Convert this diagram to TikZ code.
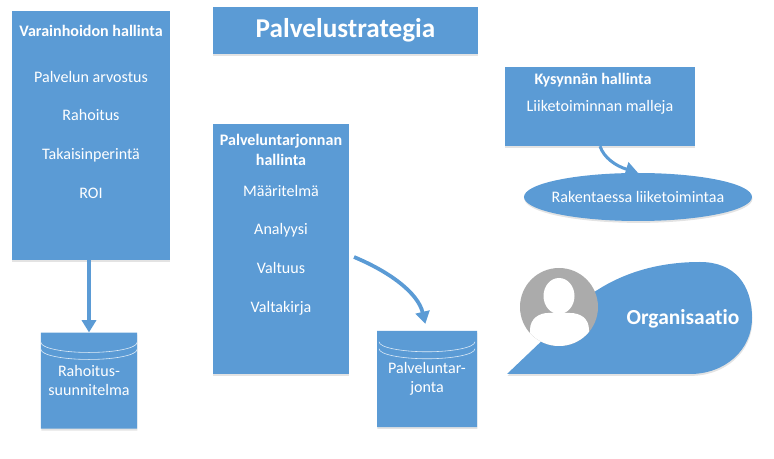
\documentclass[tikz,border=0pt]{standalone}
\usepackage{fontspec}
\setmainfont{Carlito}[Ligatures=NoCommon]
\usetikzlibrary{shapes.geometric, arrows.meta, positioning, calc, shadows}
\definecolor{boxblue}{RGB}{91,155,213}
\definecolor{avatargray}{RGB}{171,171,171}

\begin{document}
\begin{tikzpicture}[
    x=0.03cm, y=-0.03cm,
    softshadow/.style = {drop shadow={opacity=0.22, shadow xshift=0.4pt, shadow yshift=-1.6pt}},
    panelbox/.style   = {fill=boxblue, softshadow},
    headtext/.style   = {font=\fontsize{13.7}{16.5}\selectfont\bfseries, text=white, align=center, inner sep=0pt},
    itemtext/.style   = {font=\fontsize{13.7}{15}\selectfont, text=white, align=center, inner sep=0pt,
                         text height=9pt, text depth=3pt},
    storecyl/.style   = {cylinder, shape border rotate=90, aspect=0.42, fill=boxblue, softshadow,
                         anchor=shape center, minimum width=2.88cm, minimum height=2.88cm, inner sep=0pt},
    storetext/.style  = {font=\fontsize{13.7}{16.5}\selectfont, text=white, align=center, inner sep=0pt},
    rim/.style        = {draw=white!80!boxblue, line width=0.5pt},
    arr/.style        = {-{Triangle[length=10.5pt, width=12pt]}, draw=boxblue, line width=3.2pt},
]

\useasboundingbox (0,0) rectangle (774,459);

% Title
\node[panelbox, minimum width=7.95cm, minimum height=1.41cm] (Strategia) at (345.5,30.5) {};
\node[font=\fontsize{23.2}{24}\selectfont\bfseries, text=white] (StrategiaText) at (Strategia) {Palvelustrategia};

% Varainhoito panel
\node[panelbox, minimum width=4.74cm, minimum height=7.47cm] (Varainhoito) at (91,135.5) {};
\node[headtext, below=0.42cm of Varainhoito.north] (V0) {Varainhoidon hallinta};
\node[itemtext, below=1.04cm of V0] (V1) {Palvelun arvostus};
\node[itemtext, below=0.73cm of V1] (V2) {Rahoitus};
\node[itemtext, below=0.73cm of V2] (V3) {Takaisinperintä};
\node[itemtext, below=0.73cm of V3] (V4) {ROI};

% Tarjonta panel
\node[panelbox, minimum width=4.08cm, minimum height=7.5cm] (Tarjonta) at (281,249) {};
\node[headtext, below=0.32cm of Tarjonta.north] (T0) {Palveluntarjonnan\\hallinta};
\node[itemtext, below=0.59cm of T0] (T1) {Määritelmä};
\node[itemtext, below=0.73cm of T1] (T2) {Analyysi};
\node[itemtext, below=0.73cm of T2] (T3) {Valtuus};
\node[itemtext, below=0.73cm of T3] (T4) {Valtakirja};

% Kysynta
\node[panelbox, minimum width=5.7cm, minimum height=2.37cm] (Kysynta) at (600,106.5) {};
\node[headtext, anchor=center] (K0) at (593,80) {Kysynnän hallinta};
\node[itemtext, below=0.63cm of K0.center, xshift=0.21cm] (K1) {Liiketoiminnan malleja};
\node[ellipse, fill=boxblue, softshadow, minimum width=6.84cm, minimum height=1.44cm, inner sep=0pt] (Rakentaessa) at (638,197) {};
\node[storetext] (RakentaessaText) at (Rakentaessa) {Rakentaessa liiketoimintaa};

% Stores
\node[storecyl] (Rahoitus) at (89,380.7) {};
\node[storecyl, minimum width=3cm] (Palvelu) at (427,379) {};
\node[storetext] (RahoitusText) at (Rahoitus.shape center) {Rahoitus-\\suunnitelma};
\node[storetext] (PalveluText) at (Palvelu.shape center) {Palveluntar-\\jonta};
\foreach \C/\D in {Rahoitus/20, Rahoitus/27, Palvelu/21, Palvelu/28}{
  \draw[rim] ($(\C.north)+(-48,\D-10)$) arc[start angle=180, end angle=360, x radius=1.44cm, y radius=0.3cm];
}

% Organisaatio
\path[fill=boxblue, softshadow] (507,374) -- (690,374)
    .. controls (725,374) and (752,350) .. (752,318)
    .. controls (752,285) and (735,262) .. (700,262)
    .. controls (660,262) and (622,272) .. (590,295) -- cycle;
\node[font=\fontsize{18.3}{19}\selectfont\bfseries, text=white] (Organisaatio) at (683,319) {Organisaatio};

% Avatar
\node[circle, fill=avatargray, minimum size=2.34cm, inner sep=0pt] (Avatar) at (559,307) {};
\begin{scope}
  \clip (559,307) circle[radius=1.17cm];
  \fill[white] (530,346) -- (530,330) .. controls (530,318) and (540,313) .. (548,313)
      -- (570,313) .. controls (580,313) and (589,318) .. (589,330) -- (589,346) -- cycle;
\end{scope}
\node[ellipse, fill=white, minimum width=0.93cm, minimum height=1.08cm, inner sep=0pt] (AvatarHead) at (559,296) {};

% Arrows
\coordinate (TarjontaOut) at (354,257);
\draw[arr] (Rahoitus.north |- Varainhoito.south) -- (Rahoitus.north);
\draw[arr, shorten >=6pt] (TarjontaOut) .. controls (390,272) and (418,293) .. (Palvelu.north);
\draw[arr, line width=2.6pt] (Kysynta.south) .. controls (604,158) and (616,166) .. (Rakentaessa.north);

\end{tikzpicture}
\end{document}
